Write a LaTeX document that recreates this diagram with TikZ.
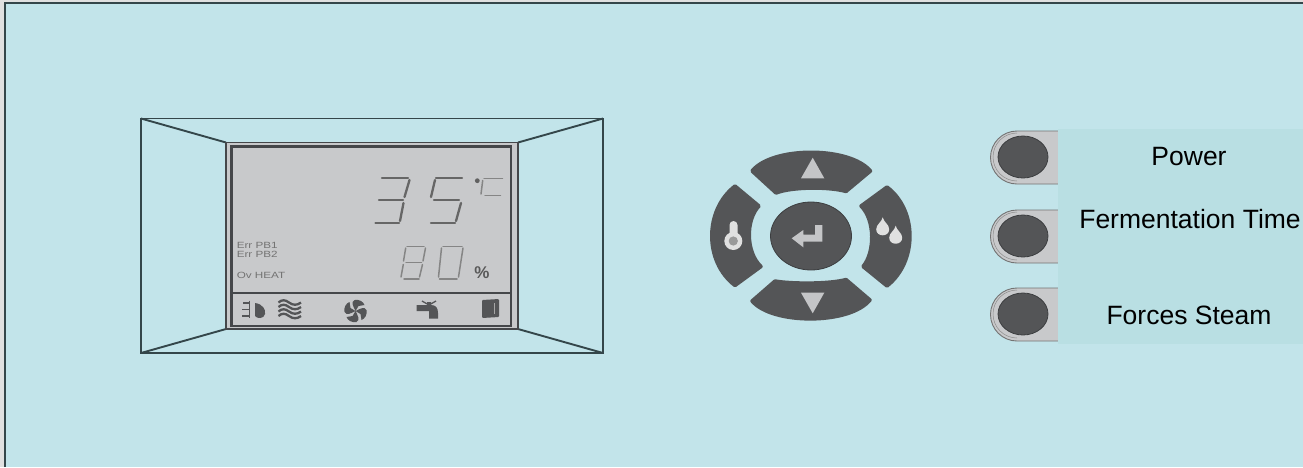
\documentclass[tikz,border=0pt]{standalone}
\usepackage{fontspec}
\setmainfont{Liberation Sans}
\usetikzlibrary{arrows.meta, shapes.geometric}
\definecolor{panelfill}{HTML}{C2E4EA}
\definecolor{paneledge}{HTML}{34464A}
\definecolor{labelfill}{HTML}{B9DFE3}
\definecolor{lcdfill}{HTML}{C8C9CB}
\definecolor{lcdedge}{HTML}{45474A}
\definecolor{keyfill}{HTML}{545557}
\definecolor{keyedge}{HTML}{3C3E40}
\definecolor{glyphfill}{HTML}{C4C5C7}

\begin{document}
\begin{tikzpicture}[x=1pt, y=-1pt,
  frameline/.style={draw=paneledge, line width=1.9pt},
  lcdline/.style={draw=lcdedge, line width=1.7pt},
  padkey/.style={fill=keyfill, draw=keyfill, line width=3.5pt, line join=round},
  padglyph/.style={fill=glyphfill, draw=none},
  seglarge/.style={draw=black!60, line width=2.3pt, line cap=round},
  segsmall/.style={draw=black!48, line width=1.5pt, line cap=round},
  lcdglyph/.style={fill=keyfill, draw=none},
  lcdtext/.style={font=\fontsize{9}{9}\selectfont, text=black!55, inner sep=0pt, anchor=west, xscale=1.3, transform shape},
  sidelabel/.style={font=\fontsize{26.5}{27}\selectfont, text=black, inner sep=0pt, anchor=base},
  sidekey/.style={ellipse, fill=keyfill, draw=keyedge, line width=0.8pt, minimum width=50pt, minimum height=42pt, inner sep=0pt},
]
\useasboundingbox (0,0) rectangle (1303,467);
\fill[black!12] (0,0) rectangle (1303,467);
\fill[panelfill] (5,3) rectangle (1303,467);
\draw[paneledge, line width=2.6pt] (5,467) -- (5,3) -- (1303,3);

% display frame
\draw[frameline] (141,118.5) rectangle (603,353);
\draw[frameline] (141,118.5) -- (226,142.5);
\draw[frameline] (603,118.5) -- (518,142.5);
\draw[frameline] (141,353) -- (226,329);
\draw[frameline] (603,353) -- (518,329);
\draw[lcdline, fill=lcdfill] (226,142.5) rectangle (518,329);
\draw[draw=lcdedge, line width=2.2pt] (231.5,146.5) rectangle (511,326);
\draw[lcdline] (231.5,292.7) -- (511,292.7);

% digit 3
\draw[seglarge] (382,178.3) -- (408,178.3);
\draw[seglarge] (409.5,180) -- (404.5,197);
\draw[seglarge] (379,200) -- (403,200);
\draw[seglarge] (403.5,203) -- (400,221);
\draw[seglarge] (375.5,223.3) -- (399,223.3);
% digit 5
\draw[seglarge] (436,178.3) -- (462,178.3);
\draw[seglarge] (435,180) -- (431,197);
\draw[seglarge] (434,200) -- (459,200);
\draw[seglarge] (461,203) -- (456,221);
\draw[seglarge] (431,223.3) -- (455,223.3);
% degree sign and C
\fill[black!62] (477.3,180.7) circle (2.4pt);
\draw[segsmall] (484,178.3) -- (502.5,178.3);
\draw[segsmall] (482.7,180.5) -- (481,194);
\draw[segsmall] (485,195.7) -- (500.5,195.7);
% digit 8
\draw[segsmall] (407,246.7) -- (424,246.7);
\draw[segsmall] (425.5,248) -- (423,261);
\draw[segsmall] (406,262.7) -- (421.5,262.7);
\draw[segsmall] (422.5,264.5) -- (419.5,277);
\draw[segsmall] (404,279) -- (419,279);
\draw[segsmall] (405.7,248) -- (403.5,261);
\draw[segsmall] (403.3,264.5) -- (401,277);
% digit 0
\draw[segsmall] (443,246.7) -- (462,246.7);
\draw[segsmall] (463,248) -- (458.5,277);
\draw[segsmall] (439.5,279) -- (457,279);
\draw[segsmall] (441.5,248) -- (438.5,277);
\node[font=\fontsize{17}{17}\selectfont\bfseries, text=black!65, inner sep=0pt] (percent) at (482,272.5) {\%};

\node[lcdtext] (errone) at (236.5,245) {Err PB1};
\node[lcdtext] (errtwo) at (236.5,254) {Err PB2};
\node[lcdtext] (ovheat) at (236.5,275) {Ov HEAT};

% heater icon
\draw[draw=keyfill, line width=1pt] (249.5,300.5) -- (249.5,318);
\draw[draw=keyfill, line width=1.3pt] (243,303) -- (249.5,303) (242,309.5) -- (249.5,309.5) (242,316) -- (249.5,316);
\fill[keyfill] (255,303) .. controls (263,304) and (266,310) .. (265,314) .. controls (264,319) and (257,319) .. (255,316) -- cycle;
% waves icon
\foreach \yy in {302.5,307,311.5,316}{
  \draw[draw=keyfill, line width=2.3pt] (278.5,\yy) .. controls (282,\yy-3) and (285,\yy-3) .. (289,\yy) .. controls (293,\yy+3) and (297,\yy+3) .. (301,\yy);
}
% fan icon
\foreach \ang in {0,90,180,270}{
  \fill[keyfill, shift={(355.5,311)}, rotate=\ang] (0,0) .. controls (-2,-4) and (-5,-9) .. (-1,-11) .. controls (4,-12) and (8,-9) .. (9,-6) -- (3,-5) -- cycle;
}
% tap icon
\fill[keyfill] (416.5,305) -- (427,305) -- (427,302) -- (431,302) -- (431,305) .. controls (436,305) and (438,308) .. (438,313) -- (438,318.5) -- (429,318.5) -- (429,311) -- (416.5,311) -- cycle;
\draw[draw=keyfill, line width=1.3pt] (422,301) -- (429,305) -- (436,301);
% door icon
\fill[keyfill, rounded corners=1pt] (482,300) -- (499,299) -- (499,317) -- (482,318) -- cycle;
\draw[draw=black!35, line width=0.9pt] (494,303) -- (494,314);

% arrow pad
\draw[padkey] (752,171) .. controls (772,146) and (850,146) .. (870.5,171) -- (846,191.5) .. controls (830,186.7) and (792,186.7) .. (776,193) -- cycle;
\draw[padkey] (752,301) .. controls (772,325) and (850,325) .. (870,300) -- (846,279.5) .. controls (830,284) and (792,284) .. (775,281) -- cycle;
\draw[padkey] (735,186) .. controls (704,210) and (704,262) .. (735,285.5) -- (761,266.5) .. controls (745.7,252) and (745.7,220) .. (759,206) -- cycle;
\draw[padkey] (887,187) .. controls (917.6,210) and (917.6,262) .. (887,286) -- (863,266.5) .. controls (875,252) and (875,220) .. (861,206) -- cycle;
\node[ellipse, fill=keyfill, draw=keyedge, line width=0.8pt, minimum width=81pt, minimum height=68pt, inner sep=0pt] (enterkey) at (811,236) {};
\fill[padglyph] (812.7,157.7) -- (801,178.3) -- (824.3,178.3) -- cycle;
\fill[padglyph] (801,292.7) -- (824.3,292.7) -- (812.7,313.3) -- cycle;
\fill[padglyph] (791.7,238.3) -- (803.3,230) -- (803.3,234.5) -- (815,234.5) -- (815,225) -- (822.3,225) -- (822.3,241.7) -- (803.3,241.7) -- (803.3,247.3) -- cycle;
% thermometer
\fill[black!12] (729.5,225) arc[start angle=180, end angle=0, radius=4pt] -- (737.5,234) -- (729.5,234) -- cycle;
\fill[black!12] (733.3,241) circle (9pt);
\fill[black!40] (733.3,241) circle (4.6pt);
% drops
\foreach \xx/\yy in {882.7/228.3, 895.7/236.7}{
  \fill[black!12] (\xx,\yy-11) .. controls (\xx+1,\yy-6) and (\xx+6.5,\yy-4) .. (\xx+6.5,\yy+1) .. controls (\xx+6.5,\yy+9) and (\xx-6.5,\yy+9) .. (\xx-6.5,\yy+1) .. controls (\xx-6.5,\yy-4) and (\xx-1,\yy-6) .. (\xx,\yy-11) -- cycle;
}

% side keys
\foreach \yy/\nm in {157/powerkey, 236/fermkey, 314/steamkey}{
  \draw[draw=black!55, line width=0.9pt, fill=lcdfill] (1058,\yy-26) -- (1017,\yy-26) arc[start angle=90, end angle=270, radius=26.5pt] -- (1058,\yy+27);
  \draw[draw=black!45, line width=0.5pt] (1017,\yy-24) arc[start angle=90, end angle=270, radius=24pt];
  \node[sidekey] (\nm) at (1023,\yy) {};
}
\fill[labelfill] (1058,129) rectangle (1303,344);
\node[sidelabel] (powerlabel) at (1189,165) {Power};
\node[sidelabel] (fermlabel) at (1190,228) {Fermentation Time};
\node[sidelabel] (steamlabel) at (1189,324) {Forces Steam};
\end{tikzpicture}
\end{document}
